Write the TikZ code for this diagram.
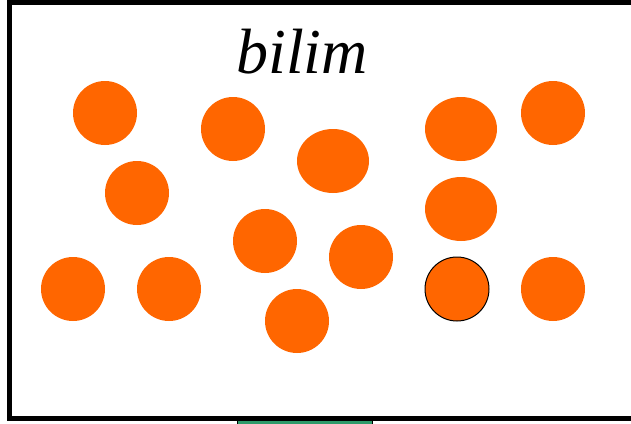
\documentclass[tikz,border=0pt]{standalone}
\usepackage{fontspec}
\setmainfont{Liberation Serif}
\definecolor{ball}{HTML}{FF6600}
\definecolor{bar}{HTML}{2E9A6A}
\begin{document}
\begin{tikzpicture}[x=1pt,y=-1pt,
  dot/.style={fill=ball,draw=none},
  frame/.style={draw=black,line width=5pt}]
\useasboundingbox (0,0) rectangle (631,423);
\fill[white] (0,0) rectangle (631,423);
\node[draw=black,line width=1pt,fill=bar,minimum width=135pt,minimum height=12pt,inner sep=0pt,anchor=north west] (base) at (237,418) {};
\draw[frame] (9.5,2.5) rectangle (633,418);
\node (title) at (302,52) {\fontsize{64}{64}\selectfont\itshape bilim};
\fill[dot] (105,113) circle (32) coordinate (c1);
\fill[dot] (137,193) circle (32) coordinate (c2);
\fill[dot] (233,129) circle (32) coordinate (c3);
\fill[dot] (333,161) ellipse (36 and 32) coordinate (c4);
\fill[dot] (461,129) ellipse (36 and 32) coordinate (c5);
\fill[dot] (553,113) circle (32) coordinate (c6);
\fill[dot] (461,209) ellipse (36 and 32) coordinate (c7);
\fill[dot] (265,241) circle (32) coordinate (c8);
\fill[dot] (361,257) circle (32) coordinate (c9);
\fill[dot] (73,289) circle (32) coordinate (c10);
\fill[dot] (169,289) circle (32) coordinate (c11);
\fill[dot] (297,321) circle (32) coordinate (c12);
\filldraw[fill=ball,draw=black,line width=1pt] (457,289) circle (32) coordinate (c13);
\fill[dot] (553,289) circle (32) coordinate (c14);
\end{tikzpicture}
\end{document}
